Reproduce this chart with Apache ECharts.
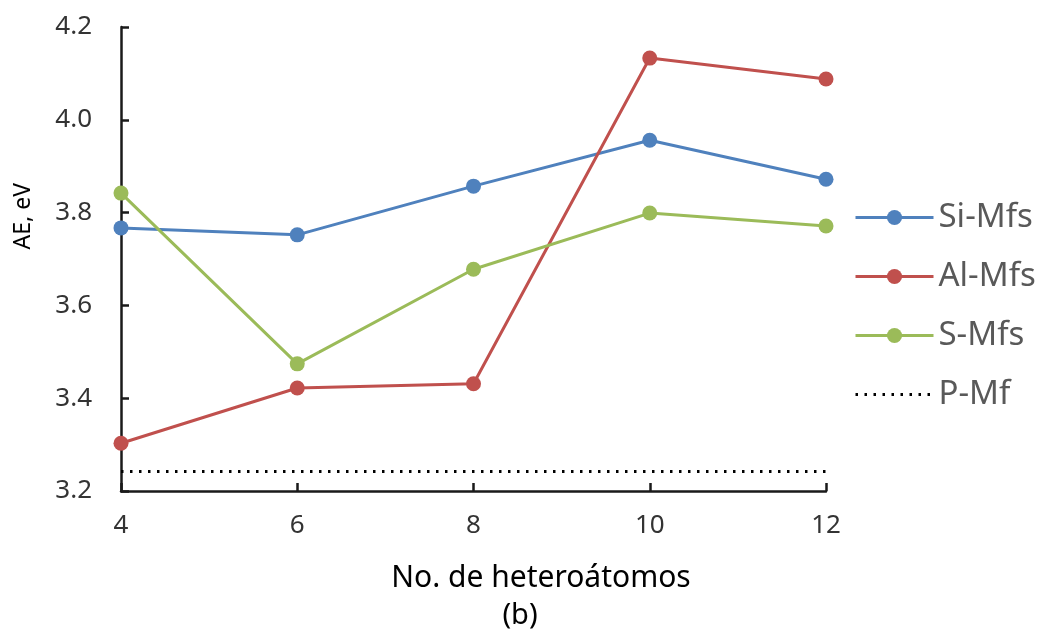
<!DOCTYPE html>
<html>
<head>
<meta charset="utf-8">
<script src="https://cdn.jsdelivr.net/npm/echarts@6/dist/echarts.min.js"></script>
<style>html,body{margin:0;padding:0;background:#fff;}#c{width:1038px;height:634px;}</style>
</head>
<body>
<div id="c"></div>
<script>
const xValues = [4, 6, 8, 10, 12];
const siMfs = [3.767, 3.752, 3.857, 3.956, 3.872];
const alMfs = [3.303, 3.422, 3.431, 4.133, 4.088];
const sMfs = [3.842, 3.474, 3.678, 3.799, 3.771];
const pMf = [3.242, 3.242];
const pMfX = [4, 12];
const seriesNames = ['Si-Mfs', 'Al-Mfs', 'S-Mfs', 'P-Mf'];
const colors = ['#4F81BD', '#C0504D', '#9BBB59', '#000000'];
const xTitle = 'No. de heteroátomos';
const yTitle = 'AE, eV';
const caption = '(b)';
const FONT = 'Noto Sans';

const pair = (xs, ys) => xs.map((x, i) => [x, ys[i]]);

const chart = echarts.init(document.getElementById('c'));
const lineSeries = (name, data, color) => ({
  name, type: 'line', data,
  symbol: 'circle', symbolSize: 15,
  itemStyle: { color },
  lineStyle: { color, width: 3 },
  emphasis: { disabled: true },
  z: 3
});
chart.setOption({
  animation: false,
  backgroundColor: '#fff',
  textStyle: { fontFamily: FONT },
  grid: { left: 121, right: 212, top: 27, bottom: 143 },
  xAxis: {
    type: 'value', min: 4, max: 12, interval: 2,
    axisLine: { lineStyle: { color: '#1a1a1a', width: 2.5 } },
    axisTick: { inside: true, length: 8, lineStyle: { color: '#1a1a1a', width: 2.5 } },
    axisLabel: { fontSize: 26, color: '#333', margin: 22, fontFamily: FONT },
    splitLine: { show: false }
  },
  yAxis: {
    type: 'value', min: 3.2, max: 4.2, interval: 0.2,
    axisLine: { show: true, lineStyle: { color: '#1a1a1a', width: 2.5 } },
    axisTick: { show: true, inside: true, length: 8, lineStyle: { color: '#1a1a1a', width: 2.5 } },
    axisLabel: { fontSize: 26, color: '#333', margin: 29, fontFamily: FONT, formatter: v => v.toFixed(1) },
    splitLine: { show: false }
  },
  legend: {
    orient: 'vertical', left: 849, top: 196,
    itemWidth: 78, itemHeight: 19, itemGap: 26,
    lineStyle: { width: 3 },
    textStyle: { fontSize: 33, lineHeight: 33, color: '#595959', fontFamily: FONT },
    data: [seriesNames[0], seriesNames[1], seriesNames[2],
      { name: seriesNames[3], itemStyle: { opacity: 0 } }]
  },
  graphic: [
    { type: 'text', left: 12, top: 183, rotation: Math.PI / 2,
      style: { text: yTitle, font: '23px ' + FONT, fill: '#000' } },
    { type: 'text', x: 541, y: 578,
      style: { text: xTitle, font: '30px ' + FONT, fill: '#000', align: 'center', verticalAlign: 'middle' } },
    { type: 'text', x: 520, y: 616,
      style: { text: caption, font: '29px ' + FONT, fill: '#000', align: 'center', verticalAlign: 'middle' } }
  ],
  series: [
    lineSeries(seriesNames[0], pair(xValues, siMfs), colors[0]),
    lineSeries(seriesNames[1], pair(xValues, alMfs), colors[1]),
    lineSeries(seriesNames[2], pair(xValues, sMfs), colors[2]),
    {
      name: seriesNames[3], type: 'line', data: pair(pMfX, pMf),
      symbol: 'none', itemStyle: { color: colors[3] },
      lineStyle: { color: colors[3], width: 3, type: [2.5, 6.5] },
      emphasis: { disabled: true }, z: 2
    }
  ]
});
</script>
</body>
</html>
